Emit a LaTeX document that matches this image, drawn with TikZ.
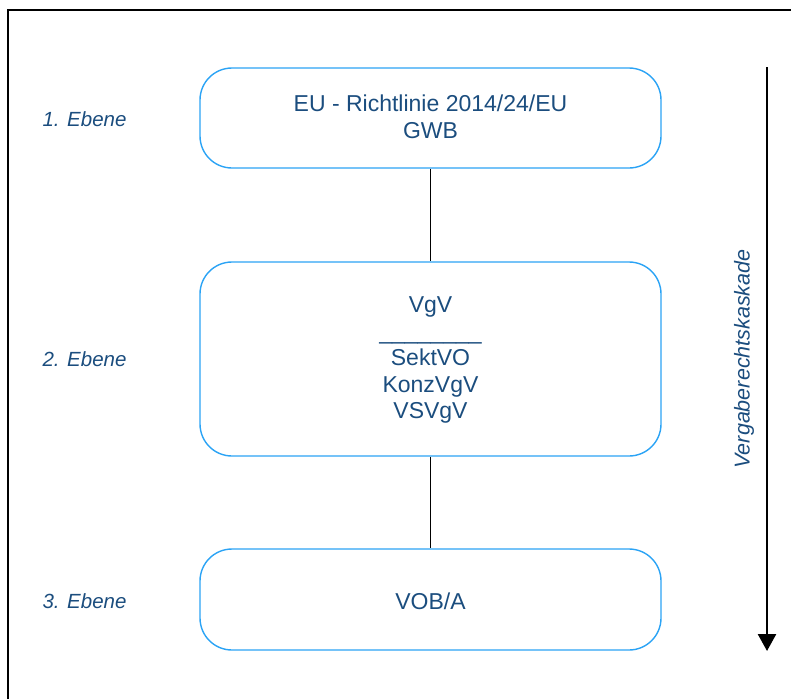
\documentclass[tikz,border=0pt]{standalone}
\usepackage{fontspec}
\setmainfont{Liberation Sans}
\usetikzlibrary{arrows.meta}
\definecolor{txtblue}{HTML}{1B4D7E}
\definecolor{boxblue}{HTML}{2BA3F5}
\tikzset{
  stagebox/.style={draw=boxblue, line width=1.4pt, rounded corners=32pt, minimum width=461pt, text width=440pt, align=center, inner sep=0pt},
  boxtext/.style={text=txtblue, font=\fontsize{23}{26.5}\selectfont, align=center},
  levellabel/.style={text=txtblue, font=\fontsize{20.5}{24}\selectfont\itshape, anchor=west},
  link/.style={draw=black, line width=1pt}
}
\begin{document}
\begin{tikzpicture}[x=1pt,y=-1pt]
\useasboundingbox (0,0) rectangle (791,699);
\draw[line width=1.5pt] (8,699) -- (8,10) -- (791,10);
\node[stagebox, minimum height=100pt] (b1) at (430.5,118) {};
\node[stagebox, minimum height=194pt] (b2) at (430.5,359) {};
\node[stagebox, minimum height=101pt] (b3) at (430.5,599.5) {};
\node[boxtext] (t1) at (430.5,117) {EU - Richtlinie 2014/24/EU\\GWB};
\node[boxtext] (t2) at (430.5,360) {VgV\\\_\_\_\_\_\_\_\_\\SektVO\\KonzVgV\\VSVgV};
\node[boxtext] (t3) at (430.5,601) {VOB/A};
\draw[link] (b1.south) -- (b2.north);
\draw[link] (b2.south) -- (b3.north);
\node[levellabel] (l1) at (39,119) {1. Ebene};
\node[levellabel] (l2) at (39,359) {2. Ebene};
\node[levellabel] (l3) at (39,601) {3. Ebene};
\coordinate (as) at (767,67);
\coordinate (ae) at (767,651);
\draw[line width=2.5pt, -{Triangle[width=18pt,length=17pt]}] (as) -- (ae);
\node[text=txtblue, font=\fontsize{21.5}{24}\selectfont\itshape, rotate=90] (cas) at (744,359) {Vergaberechtskaskade};
\end{tikzpicture}
\end{document}
